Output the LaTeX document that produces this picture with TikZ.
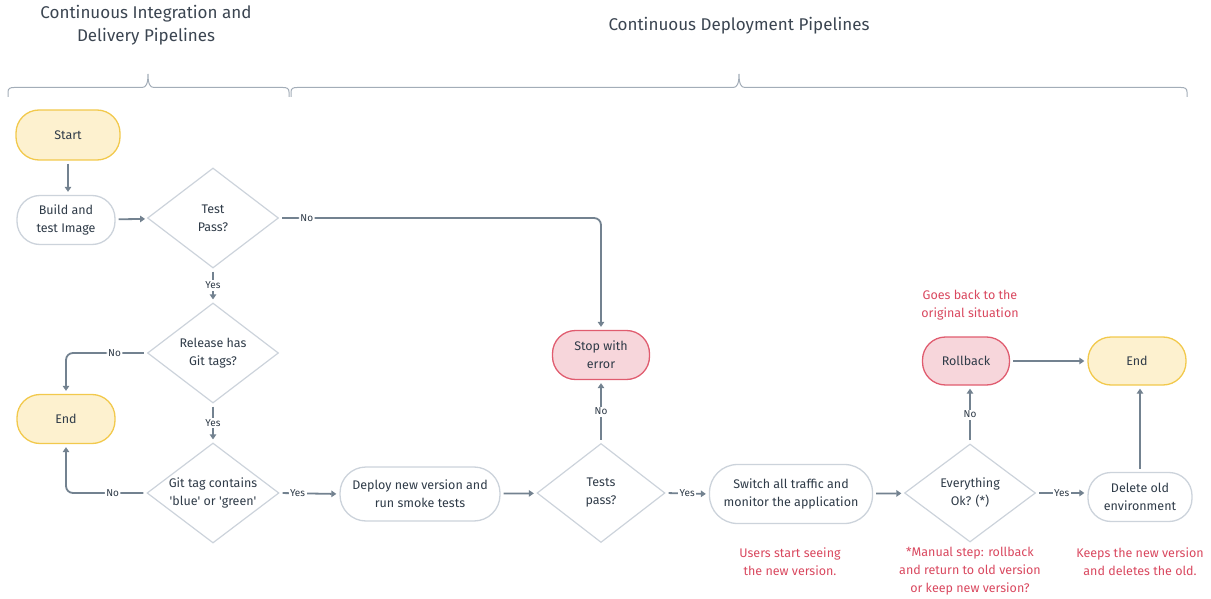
\documentclass[tikz,border=0pt]{standalone}
\usepackage{fontspec}
\setmainfont{Fira Sans}[Ligatures=TeXOff]
\usetikzlibrary{shapes.geometric,arrows.meta}
\definecolor{ink}{HTML}{2F3B48}
\definecolor{headink}{HTML}{3B4551}
\definecolor{edge}{HTML}{738290}
\definecolor{outline}{HTML}{CCD3DB}
\definecolor{bracec}{HTML}{A3ADB8}
\definecolor{yfill}{HTML}{FDF1CF}
\definecolor{ydraw}{HTML}{F2C94C}
\definecolor{pfill}{HTML}{F7D6DB}
\definecolor{pdraw}{HTML}{E05C6F}
\definecolor{note}{HTML}{D9485F}
\begin{document}
\begin{tikzpicture}[x=1pt,y=-1pt,
  every node/.style={text=ink},
  body/.style={font=\fontsize{12.5}{18}\selectfont, align=center, inner sep=0pt},
  pill/.style={body, draw=outline, fill=white, line width=1.3pt, rounded corners=23pt,
    minimum width=98pt, minimum height=49pt},
  term/.style={pill, draw=ydraw, fill=yfill},
  halt/.style={pill, draw=pdraw, fill=pfill},
  dec/.style={body, diamond, draw=outline, line width=1.2pt, inner xsep=-20pt, inner ysep=-6pt,
    minimum width=131pt, minimum height=100pt},
  arr/.style={draw=edge, line width=1.8pt, shorten <=3pt, shorten >=3pt,
    -{Triangle[length=5pt,width=6.5pt]}},
  lbl/.style={fill=white, font=\fontsize{10}{11}\selectfont, inner sep=1.5pt, text=ink},
  notes/.style={font=\fontsize{12.5}{18}\selectfont, align=center, text=note},
  head/.style={font=\fontsize{17}{23}\selectfont, align=center, text=headink},
  brc/.style={draw=bracec, line width=1pt}]
\useasboundingbox (0,0) rectangle (1211,599);

% section headings
\node[head] (hci) at (146,25.5) {Continuous Integration and\\Delivery Pipelines};
\node[head] (hcd) at (739,26) {Continuous Deployment Pipelines};

% curly braces under the headings
\draw[brc] (8,97) -- (8,92) .. controls (8,88.5) and (10,87.5) .. (14,87.5) -- (142,87.5)
  .. controls (146,87.5) and (148,84) .. (148,74) .. controls (148,84) and (150,87.5) .. (154,87.5)
  -- (283,87.5) .. controls (287,87.5) and (289,88.5) .. (289,92) -- (289,97);
\draw[brc] (291,97) -- (291,92) .. controls (291,88.5) and (293,87.5) .. (297,87.5) -- (733,87.5)
  .. controls (737,87.5) and (739,84) .. (739,74) .. controls (739,84) and (741,87.5) .. (745,87.5)
  -- (1181,87.5) .. controls (1185,87.5) and (1187,88.5) .. (1187,92) -- (1187,97);

% CI / CD stages
\node[term, minimum width=104pt, minimum height=50pt] (start) at (68,135) {Start};
\node[pill] (build) at (66,220) {Build and\\test Image};
\node[dec] (test) at (213,218) {Test\\Pass?};
\node[dec] (rel) at (213,353) {Release has\\Git tags?};
\node[term] (endL) at (66,419) {End};
\node[dec, minimum width=132pt] (git) at (213,493) {Git tag contains\\'blue' or 'green'};
\node[pill, minimum width=160pt, minimum height=54pt, rounded corners=26pt] (deploy) at (420,494) {Deploy new version and\\run smoke tests};
\node[dec, minimum width=128pt, minimum height=99pt] (tests) at (601,493) {Tests\\pass?};
\node[halt, minimum width=97pt] (stop) at (601,355) {Stop with\\error};
\node[pill, minimum width=163pt, minimum height=59pt, rounded corners=28pt] (switch) at (791,494) {Switch all traffic and\\monitor the application};
\node[dec, minimum height=98pt] (ok) at (970,493) {Everything\\Ok? (*)};
\node[halt, minimum width=87pt, minimum height=48pt] (roll) at (966,361) {Rollback};
\node[term, minimum height=48pt] (endR) at (1137,361) {End};
\node[pill, minimum width=104pt] (del) at (1140,497) {Delete old\\environment};

% annotations
\node[notes] (n1) at (970,305) {Goes back to the\\original situation};
\node[notes] (n2) at (790,562) {Users start seeing\\the new version.};
\node[notes] (n3) at (970,571) {*Manual step: rollback\\and return to old version\\or keep new version?};
\node[notes] (n4) at (1140,562) {Keeps the new version\\and deletes the old.};

% connectors
\draw[arr] (start.south) -- (start.south |- build.north);
\draw[arr] (build) -- (test);
\draw[arr, rounded corners=7pt] (test.east) -| node[lbl, pos=0.043] {No} (stop.north);
\draw[arr] (test.south) -- node[lbl] {Yes} (rel.north);
\draw[arr, rounded corners=7pt] (rel.west) -| node[lbl, pos=0.2] {No} (endL.north);
\draw[arr] (rel.south) -- node[lbl] {Yes} (git.north);
\draw[arr, rounded corners=7pt] (git.west) -| node[lbl, pos=0.21] {No} (endL.south);
\draw[arr] (git.east) -- node[lbl, pos=0.3] {Yes} (deploy.west);
\draw[arr] (deploy) -- (tests);
\draw[arr] (tests.north) -- node[lbl] {No} (stop.south);
\draw[arr] (tests.east) -- node[lbl] {Yes} (switch.west);
\draw[arr] (switch) -- (ok);
\draw[arr] (ok.north) -- node[lbl] {No} (ok.north |- roll.south);
\draw[arr] (ok.east) -- node[lbl] {Yes} (del.west |- ok.east);
\draw[arr] (roll) -- (endR);
\draw[arr] (del.north) -- (del.north |- endR.south);
\end{tikzpicture}
\end{document}
